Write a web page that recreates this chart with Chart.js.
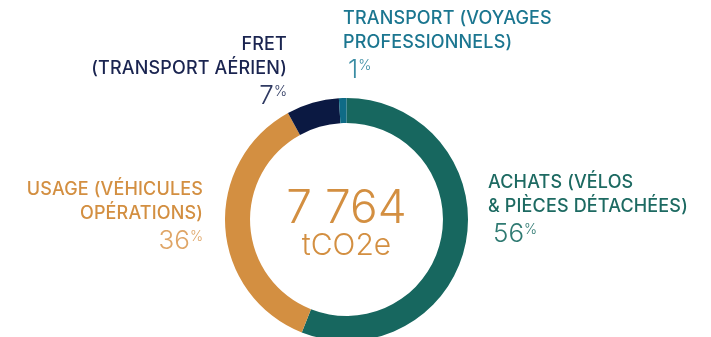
<!DOCTYPE html>
<html lang="fr">
<head>
<meta charset="utf-8">
<script src="https://cdn.jsdelivr.net/npm/chart.js@4.4.1/dist/chart.umd.min.js"></script>
<style>
  html, body { margin: 0; padding: 0; background: #ffffff; overflow: hidden; }
  #wrap { position: relative; width: 711px; height: 360px; }
  #wrap canvas { position: absolute; left: 0; top: 0; }
  .lbl { position: absolute; font-family: Inter, "Noto Sans", sans-serif; }
  .lbl .name { font-size: 18px; font-weight: 500; line-height: 24px; letter-spacing: 0.15px; }
  .lbl .pct { font-size: 26px; font-weight: 300; line-height: 28px; margin-top: 1px; }
  .lbl .pct sup { font-size: 14px; font-weight: 300; vertical-align: baseline; position: relative; top: -8px; margin-left: 0; }
</style>
</head>
<body>
<div id="wrap">
  <canvas id="donut" width="711" height="360"></canvas>
</div>
<script>
// Categories and shares (%), clockwise from the top
const categories = ['ACHATS (VÉLOS & PIÈCES DÉTACHÉES)', 'USAGE (VÉHICULES OPÉRATIONS)', 'FRET (TRANSPORT AÉRIEN)', 'TRANSPORT (VOYAGES PROFESSIONNELS)'];
const labelLines = [
    ['ACHATS (VÉLOS', '& PIÈCES DÉTACHÉES)'],
    ['USAGE (VÉHICULES', 'OPÉRATIONS)'],
    ['FRET', '(TRANSPORT AÉRIEN)'],
    ['TRANSPORT (VOYAGES', 'PROFESSIONNELS)']
];
const shares = [56, 36, 7, 1];
const totalValue = '7 764';
const totalUnit = 'tCO2e';

const sliceColors = ['#17675f', '#d38f41', '#0b1942', '#0f6b86'];
const nameColors = ['#1d6a62', '#d38f41', '#1a2450', '#1b7690'];
const pctColors = ['#2f7a72', '#dfa566', '#2f3a62', '#3a8ca3'];

// Label blocks placed around the ring
const labelBoxes = [
    { left: 488, top: 170, align: 'left', pctIndent: 5 },
    { right: 508, top: 177, align: 'right', pctIndent: 0 },
    { right: 424, top: 32, align: 'right', pctIndent: 0 },
    { left: 343, top: 6, align: 'left', pctIndent: 5 }
];

const wrap = document.getElementById('wrap');
labelLines.forEach((lines, i) => {
    const box = labelBoxes[i];
    const div = document.createElement('div');
    div.className = 'lbl';
    div.style.top = box.top + 'px';
    if (box.left !== undefined) div.style.left = box.left + 'px';
    if (box.right !== undefined) div.style.right = box.right + 'px';
    div.style.textAlign = box.align;
    div.innerHTML =
        '<div class="name" style="color:' + nameColors[i] + '">' + lines.join('<br>') + '</div>' +
        '<div class="pct" style="color:' + pctColors[i] + ';padding-left:' + box.pctIndent + 'px">' +
        shares[i] + '<sup>%</sup></div>';
    wrap.appendChild(div);
});

// Total written in the hole of the ring
const centerText = {
    id: 'centerText',
    afterDraw(chart) {
        const arc = chart.getDatasetMeta(0).data[0];
        const ctx = chart.ctx;
        ctx.save();
        ctx.fillStyle = '#d38f41';
        ctx.textAlign = 'center';
        ctx.textBaseline = 'alphabetic';
        ctx.font = '300 46px Inter';
        ctx.fillText(totalValue, arc.x, arc.y + 3.5);
        ctx.font = '300 30px Inter';
        ctx.fillText(totalUnit, arc.x, arc.y + 35.5);
        ctx.restore();
    }
};

new Chart(document.getElementById('donut'), {
    type: 'doughnut',
    data: {
        labels: categories,
        datasets: [{
            data: shares,
            backgroundColor: sliceColors,
            borderWidth: 0,
            hoverOffset: 0
        }]
    },
    options: {
        responsive: false,
        animation: false,
        cutout: '79.4%',
        layout: { padding: { top: 98, bottom: 19, left: 225, right: 243 } },
        plugins: {
            legend: { display: false },
            tooltip: { enabled: false }
        }
    },
    plugins: [centerText]
});
</script>
</body>
</html>
